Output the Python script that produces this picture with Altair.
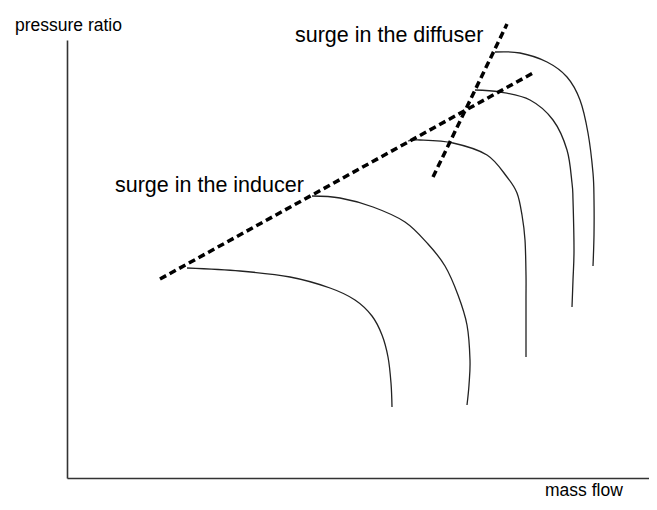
import altair as alt
import pandas as pd

# Data in chart units (mass flow, pressure ratio)
speed_lines = {
    "n1": [(120, 210), (173, 207), (223, 201), (263, 190), (288, 178), (305, 162),
           (315, 143), (321, 121), (324, 95), (325, 71)],
    "n2": [(245, 282), (273, 280), (306, 271), (338, 256), (361, 234), (378, 212),
           (391, 183), (400, 153), (403, 118), (402, 93), (400, 73)],
    "n3": [(341, 337), (353, 338), (386, 335), (420, 323), (440, 301), (450, 285),
           (455, 263), (458, 238), (459, 203), (459, 178), (459, 121)],
    "n4": [(408, 388), (433, 386), (463, 378), (486, 358), (500, 328), (505, 295),
           (506, 278), (507, 228), (506, 198), (505, 171)],
    "n5": [(428, 426), (453, 425), (480, 416), (500, 401), (513, 378), (521, 345),
           (526, 305), (527, 278), (527, 243), (526, 212)],
}
surge_inducer = [(93, 199), (466, 405)]
surge_diffuser = [(366, 301), (440, 454)]

labels = ["surge in the diffuser", "surge in the inducer"]
label_x = [228, 48]
label_y = [436, 286]

axis_titles = ["pressure ratio", "mass flow"]
axis_title_x = [-52, 478]
axis_title_y = [447, -18]

FONT = "Liberation Sans, Arial, sans-serif"

rows = []
for name, pts in speed_lines.items():
    for i, (x, y) in enumerate(pts):
        rows.append({"line": name, "i": i, "x": x, "y": y})
curves_df = pd.DataFrame(rows)

dash_rows = []
for name, pts in [("inducer", surge_inducer), ("diffuser", surge_diffuser)]:
    for i, (x, y) in enumerate(pts):
        dash_rows.append({"line": name, "i": i, "x": x, "y": y})
dash_df = pd.DataFrame(dash_rows)

xs = alt.Scale(domain=[0, 582], nice=False, zero=False)
ys = alt.Scale(domain=[0, 438], nice=False, zero=False)

X = alt.X("x:Q", scale=xs, axis=alt.Axis(title=None, labels=False, ticks=False, grid=False,
                                         domain=True, domainColor="#333", domainWidth=1.6))
Y = alt.Y("y:Q", scale=ys, axis=alt.Axis(title=None, labels=False, ticks=False, grid=False,
                                         domain=True, domainColor="#333", domainWidth=1.6))

curves = alt.Chart(curves_df).mark_line(
    interpolate="cardinal", color="#222", strokeWidth=1.3, clip=False
).encode(x=X, y=Y, detail="line:N", order="i:Q")

dashes = alt.Chart(dash_df).mark_line(
    color="black", strokeWidth=3.5, strokeDash=[7, 4], clip=False
).encode(x=alt.X("x:Q", scale=xs), y=alt.Y("y:Q", scale=ys), detail="line:N", order="i:Q")

ann = alt.Chart(pd.DataFrame({"t": labels, "x": label_x, "y": label_y})).mark_text(
    align="left", baseline="alphabetic", font=FONT, fontSize=21.5, color="black"
).encode(x=alt.X("x:Q", scale=xs), y=alt.Y("y:Q", scale=ys), text="t:N")

titles = alt.Chart(pd.DataFrame({"t": axis_titles, "x": axis_title_x, "y": axis_title_y})).mark_text(
    align="left", baseline="alphabetic", font=FONT, fontSize=17.5, color="black"
).encode(x=alt.X("x:Q", scale=xs), y=alt.Y("y:Q", scale=ys), text="t:N")

chart = alt.layer(curves, dashes, ann, titles).properties(
    width=582, height=438,
    background="white",
    autosize=alt.AutoSizeParams(type="none"),
    padding={"left": 59, "top": 32, "right": 0, "bottom": 24},
).configure_view(stroke=None)

chart.save("out.html", embed_options={"renderer": "svg", "actions": False})
